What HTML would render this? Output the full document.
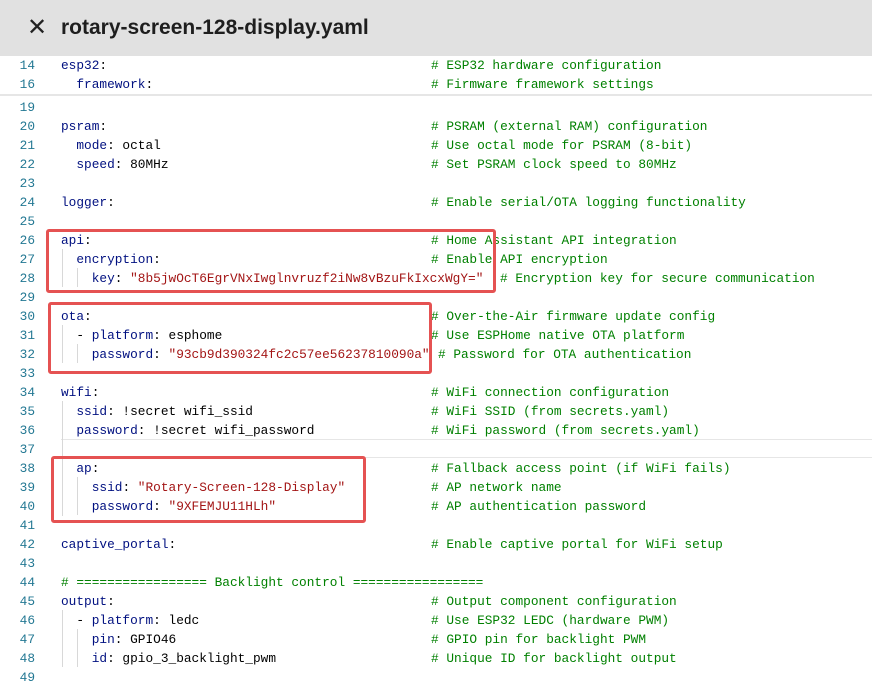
<!DOCTYPE html>
<html><head><meta charset="utf-8"><style>
body{margin:0;width:872px;height:687px;overflow:hidden;background:#fff;font-family:"Liberation Mono",monospace;font-size:12.8px;position:relative}
.hd{position:absolute;left:0;top:0;width:872px;height:56px;background:#e1e1e1}
.ttl{position:absolute;left:61px;top:16px;font-family:"Liberation Sans",sans-serif;font-weight:bold;font-size:21px;color:#1e1e1e}
.x{position:absolute;left:27px;top:13px;font-family:"Liberation Sans",sans-serif;font-size:24px;color:#222}
.r{position:absolute;left:0;height:19px;line-height:19px;width:872px;white-space:pre}
.n{position:absolute;right:837px;color:#237893}
.c{position:absolute;left:61px;color:#001080}
.cm{position:absolute;left:431px;color:#008000}
.s{color:#a31515}
.p{color:#000}
.g{position:absolute;width:1px;background:#d8d8d8}
.box{position:absolute;border:3px solid #e55252;border-radius:3px}
</style></head><body>
<div class="hd"><span class="x">✕</span><span class="ttl">rotary-screen-128-display.yaml</span></div>
<div class="r" style="top:55.5px"><span class="n">14</span><span class="c">esp32<span class="p">:</span></span><span class="cm"># ESP32 hardware configuration</span></div>
<div class="r" style="top:74.5px"><span class="n">16</span><span class="c">  framework<span class="p">:</span></span><span class="cm"># Firmware framework settings</span></div>
<div style="position:absolute;left:0;top:94px;width:872px;height:2px;background:#e6e6e6"></div>
<div class="r" style="top:97.5px"><span class="n">19</span></div>
<div class="r" style="top:116.5px"><span class="n">20</span><span class="c">psram<span class="p">:</span></span><span class="cm"># PSRAM (external RAM) configuration</span></div>
<div class="r" style="top:135.5px"><span class="n">21</span><span class="c">  mode<span class="p">: octal</span></span><span class="cm"># Use octal mode for PSRAM (8-bit)</span></div>
<div class="r" style="top:154.5px"><span class="n">22</span><span class="c">  speed<span class="p">: 80MHz</span></span><span class="cm"># Set PSRAM clock speed to 80MHz</span></div>
<div class="r" style="top:173.5px"><span class="n">23</span></div>
<div class="r" style="top:192.5px"><span class="n">24</span><span class="c">logger<span class="p">:</span></span><span class="cm"># Enable serial/OTA logging functionality</span></div>
<div class="r" style="top:211.5px"><span class="n">25</span></div>
<div class="r" style="top:230.5px"><span class="n">26</span><span class="c">api<span class="p">:</span></span><span class="cm"># Home Assistant API integration</span></div>
<div class="r" style="top:249.5px"><span class="n">27</span><span class="c">  encryption<span class="p">:</span></span><span class="cm"># Enable API encryption</span></div>
<div class="r" style="top:268.5px"><span class="n">28</span><span class="c">    key<span class="p">: </span><span class="s">"8b5jwOcT6EgrVNxIwglnvruzf2iNw8vBzuFkIxcxWgY="</span></span><span class="cm" style="left:500px"># Encryption key for secure communication</span></div>
<div class="r" style="top:287.5px"><span class="n">29</span></div>
<div class="r" style="top:306.5px"><span class="n">30</span><span class="c">ota<span class="p">:</span></span><span class="cm"># Over-the-Air firmware update config</span></div>
<div class="r" style="top:325.5px"><span class="n">31</span><span class="c">  <span class="p">- </span>platform<span class="p">: esphome</span></span><span class="cm"># Use ESPHome native OTA platform</span></div>
<div class="r" style="top:344.5px"><span class="n">32</span><span class="c">    password<span class="p">: </span><span class="s">"93cb9d390324fc2c57ee56237810090a"</span></span><span class="cm" style="left:438px"># Password for OTA authentication</span></div>
<div class="r" style="top:363.5px"><span class="n">33</span></div>
<div class="r" style="top:382.5px"><span class="n">34</span><span class="c">wifi<span class="p">:</span></span><span class="cm"># WiFi connection configuration</span></div>
<div class="r" style="top:401.5px"><span class="n">35</span><span class="c">  ssid<span class="p">: !secret wifi_ssid</span></span><span class="cm"># WiFi SSID (from secrets.yaml)</span></div>
<div class="r" style="top:420.5px"><span class="n">36</span><span class="c">  password<span class="p">: !secret wifi_password</span></span><span class="cm"># WiFi password (from secrets.yaml)</span></div>
<div style="position:absolute;left:61px;top:439px;width:811px;height:17px;border-top:1px solid #e6e6e6;border-bottom:1px solid #e6e6e6"></div>
<div class="r" style="top:439.5px"><span class="n">37</span></div>
<div class="r" style="top:458.5px"><span class="n">38</span><span class="c">  ap<span class="p">:</span></span><span class="cm"># Fallback access point (if WiFi fails)</span></div>
<div class="r" style="top:477.5px"><span class="n">39</span><span class="c">    ssid<span class="p">: </span><span class="s">"Rotary-Screen-128-Display"</span></span><span class="cm"># AP network name</span></div>
<div class="r" style="top:496.5px"><span class="n">40</span><span class="c">    password<span class="p">: </span><span class="s">"9XFEMJU11HLh"</span></span><span class="cm"># AP authentication password</span></div>
<div class="r" style="top:515.5px"><span class="n">41</span></div>
<div class="r" style="top:534.5px"><span class="n">42</span><span class="c">captive_portal<span class="p">:</span></span><span class="cm"># Enable captive portal for WiFi setup</span></div>
<div class="r" style="top:553.5px"><span class="n">43</span></div>
<div class="r" style="top:572.5px"><span class="n">44</span><span class="c" style="color:#008000"># ================= Backlight control =================</span></div>
<div class="r" style="top:591.5px"><span class="n">45</span><span class="c">output<span class="p">:</span></span><span class="cm"># Output component configuration</span></div>
<div class="r" style="top:610.5px"><span class="n">46</span><span class="c">  <span class="p">- </span>platform<span class="p">: ledc</span></span><span class="cm"># Use ESP32 LEDC (hardware PWM)</span></div>
<div class="r" style="top:629.5px"><span class="n">47</span><span class="c">    pin<span class="p">: GPIO46</span></span><span class="cm"># GPIO pin for backlight PWM</span></div>
<div class="r" style="top:648.5px"><span class="n">48</span><span class="c">    id<span class="p">: gpio_3_backlight_pwm</span></span><span class="cm"># Unique ID for backlight output</span></div>
<div class="r" style="top:667.5px"><span class="n">49</span></div>
<div class="g" style="left:62px;top:249px;height:38px"></div>
<div class="g" style="left:77px;top:268px;height:19px"></div>
<div class="g" style="left:62px;top:325px;height:38px"></div>
<div class="g" style="left:77px;top:344px;height:19px"></div>
<div class="g" style="left:62px;top:401px;height:115px"></div>
<div class="g" style="left:77px;top:477px;height:38px"></div>
<div class="g" style="left:62px;top:610px;height:57px"></div>
<div class="g" style="left:77px;top:629px;height:38px"></div>
<div class="box" style="left:46px;top:229px;width:444px;height:58px"></div>
<div class="box" style="left:48px;top:302px;width:378px;height:66px"></div>
<div class="box" style="left:51px;top:456px;width:309px;height:61px"></div>
</body></html>
